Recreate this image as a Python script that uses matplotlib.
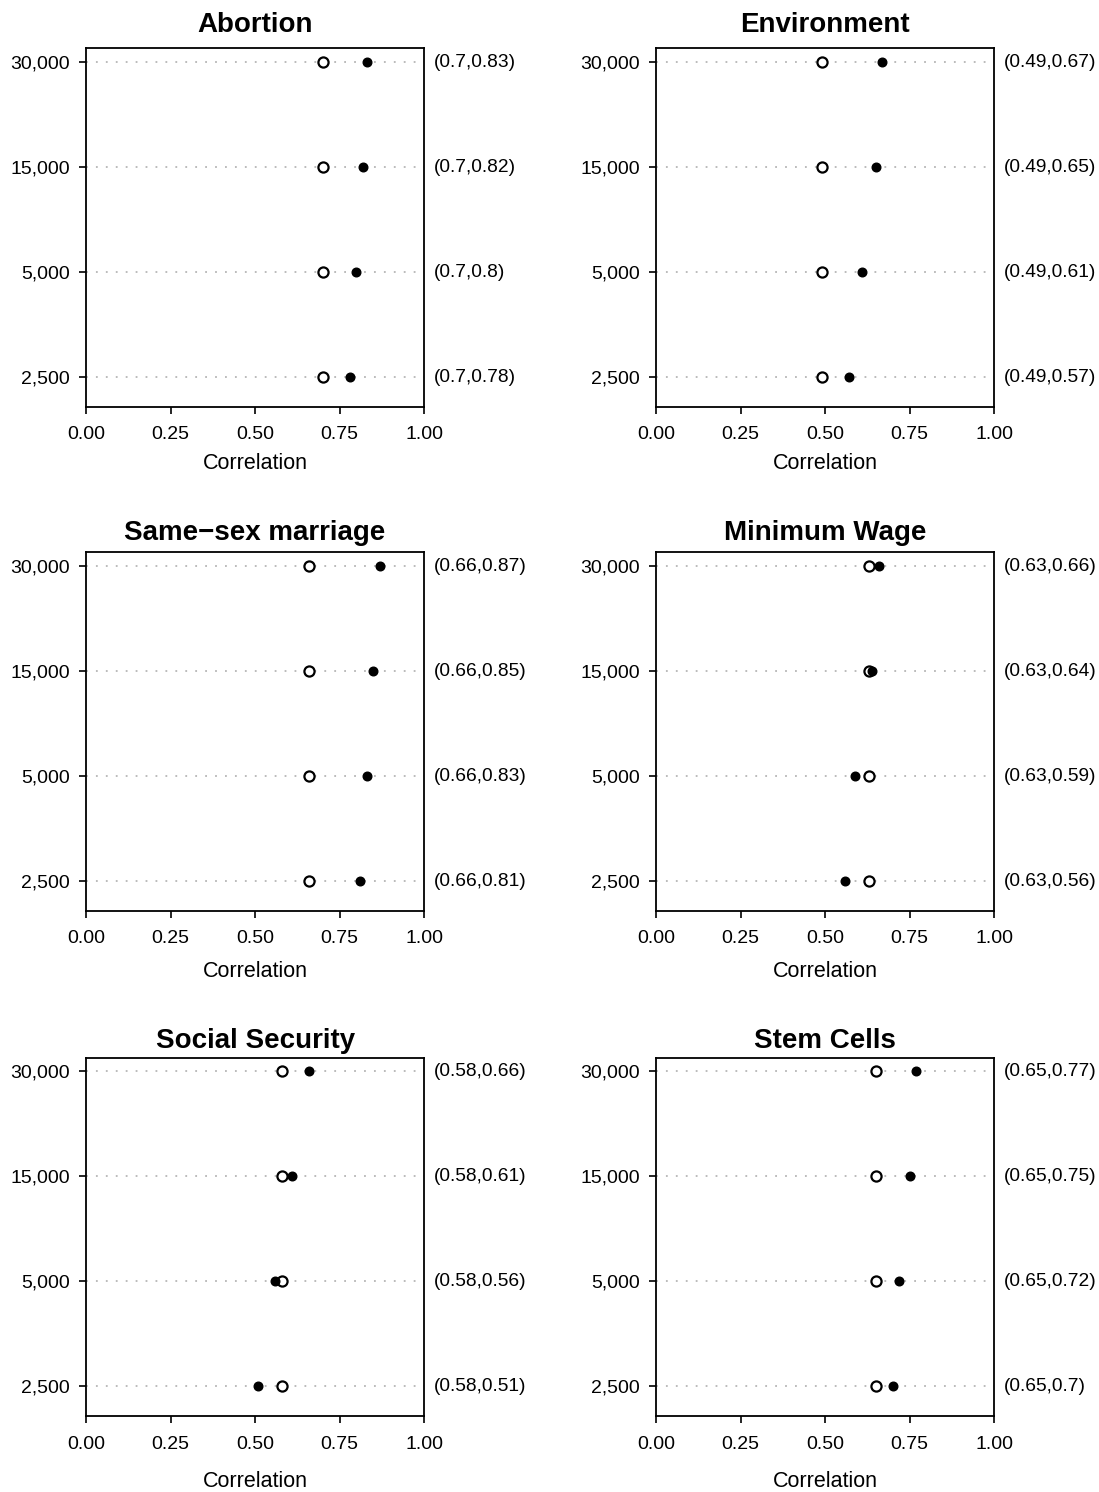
import matplotlib
matplotlib.use("Agg")
import matplotlib.pyplot as plt
import matplotlib.transforms as mtransforms

plt.rcParams["font.family"] = ["Liberation Sans", "DejaVu Sans"]

sample_sizes = ["2,500", "5,000", "15,000", "30,000"]
topics = ["Abortion", "Environment", "Same\u2212sex marriage",
          "Minimum Wage", "Social Security", "Stem Cells"]

# open circle: full-sample correlation, same for every sample size
open_corr = [0.70, 0.49, 0.66, 0.63, 0.58, 0.65]

# filled dots, ordered 2,500 / 5,000 / 15,000 / 30,000
abortion = [0.78, 0.80, 0.82, 0.83]
environment = [0.57, 0.61, 0.65, 0.67]
same_sex = [0.81, 0.83, 0.85, 0.87]
min_wage = [0.56, 0.59, 0.64, 0.66]
social_security = [0.51, 0.56, 0.61, 0.66]
stem_cells = [0.70, 0.72, 0.75, 0.77]
filled_corr = [abortion, environment, same_sex, min_wage, social_security, stem_cells]

x_ticks = [0.0, 0.25, 0.5, 0.75, 1.0]


def fmt(v):
    s = f"{v:.2f}".rstrip("0")
    return s if not s.endswith(".") else s + "0"


fig = plt.figure(figsize=(10.99, 14.92), dpi=100)

lefts = [0.0783, 0.5969]
bottoms = [0.7272, 0.3894, 0.0509]
w, h = 0.3076, 0.2403
title_pads = [12, 9, 7]
label_pads = [7, 10, 13]

for i, topic in enumerate(topics):
    row, col = divmod(i, 2)
    ax = fig.add_axes([lefts[col], bottoms[row], w, h])
    ypos = list(range(1, len(sample_sizes) + 1))

    for y in ypos:
        ax.axhline(y, color="#b5b5b5", linestyle=(0, (1, 4.5)), linewidth=1.3, zorder=1)

    ax.plot([open_corr[i]] * len(ypos), ypos, "o", markersize=7.3,
            markerfacecolor="white", markeredgecolor="black",
            markeredgewidth=1.6, linestyle="none", zorder=3)
    ax.plot(filled_corr[i], ypos, "o", markersize=6.2, color="black",
            linestyle="none", zorder=4)

    trans = mtransforms.blended_transform_factory(ax.transAxes, ax.transData)
    for y, v in zip(ypos, filled_corr[i]):
        ax.text(1.03, y, f"({fmt(open_corr[i])},{fmt(v)})", transform=trans,
                ha="left", va="center", fontsize=13.8)

    ax.set_xlim(0, 1)
    ax.set_ylim(0.714, 4.133)
    ax.set_xticks(x_ticks)
    ax.set_xticklabels([f"{t:.2f}" for t in x_ticks])
    ax.set_yticks(ypos)
    ax.set_yticklabels(sample_sizes)
    ax.tick_params(axis="both", direction="out", length=5, width=1.2,
                   labelsize=14)
    ax.tick_params(axis="x", pad=9)
    ax.tick_params(axis="y", pad=6.5)
    for sp in ax.spines.values():
        sp.set_linewidth(1.3)
    ax.set_xlabel("Correlation", fontsize=15.5, labelpad=label_pads[row])
    ax.set_title(topic, fontsize=20, fontweight="bold", pad=title_pads[row])

fig.savefig("out.png", dpi=100)
